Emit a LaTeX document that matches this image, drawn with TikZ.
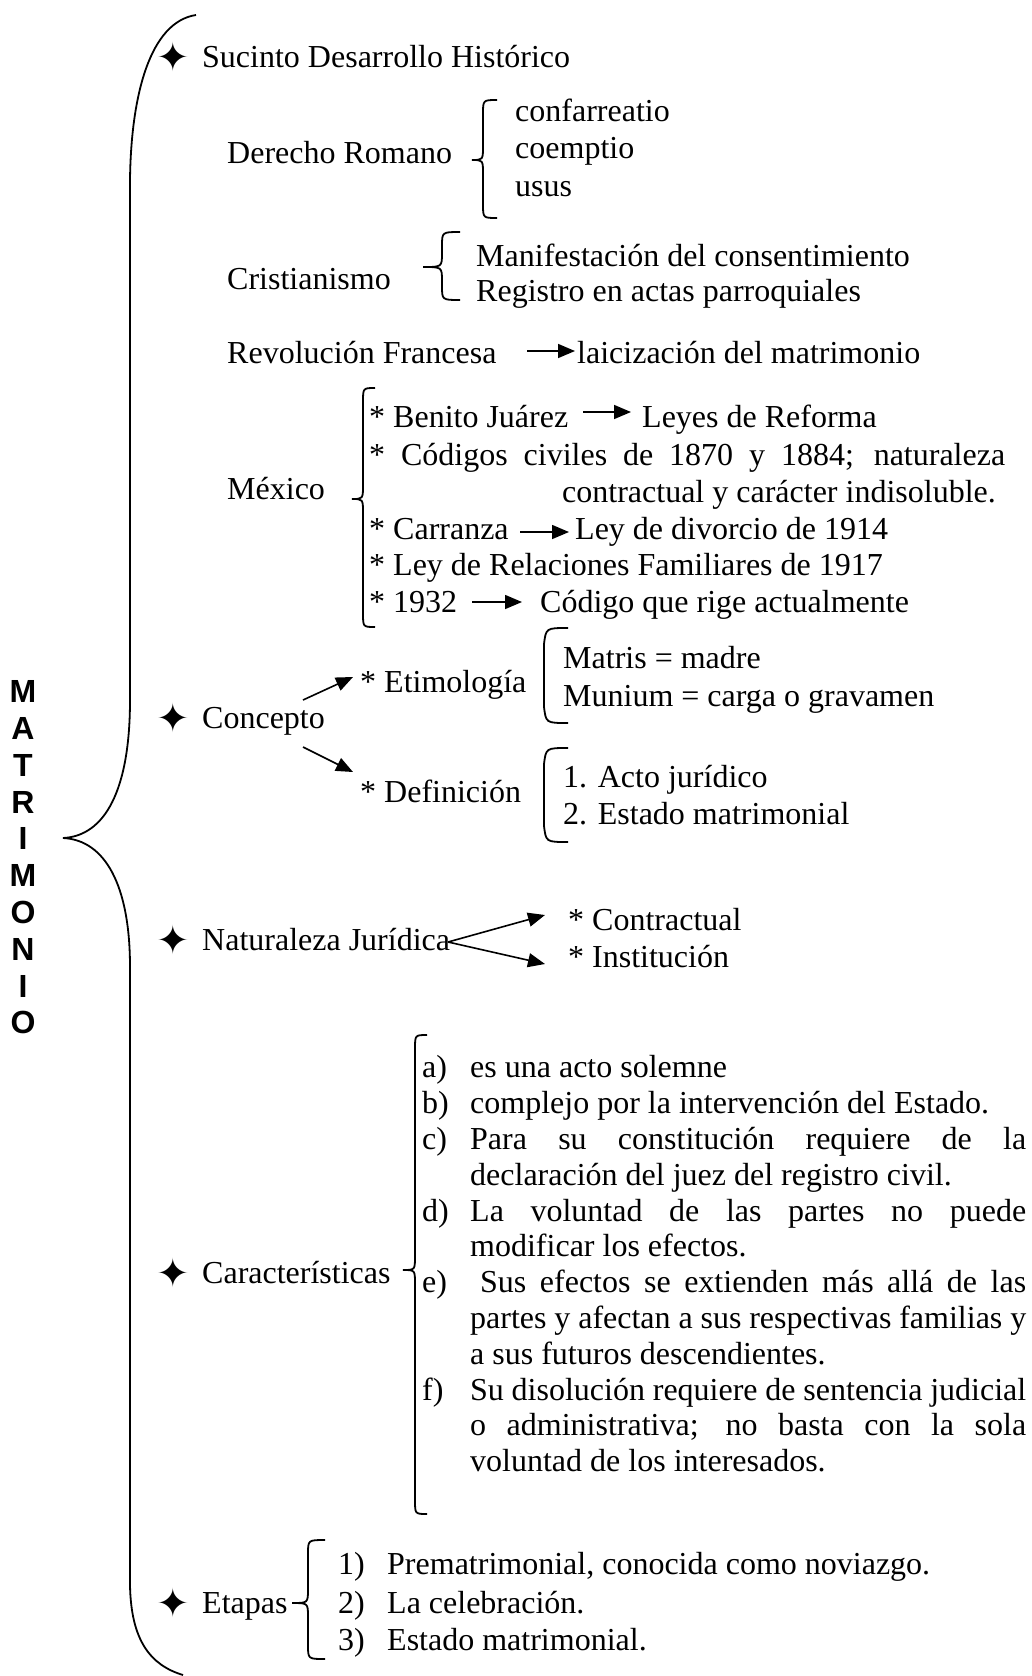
\documentclass[tikz,border=0pt]{standalone}
\usepackage{fontspec}
\setmainfont{Liberation Serif}
\newfontfamily\matfont{Liberation Sans}
\newfontfamily\starfont{DejaVu Sans}
\usetikzlibrary{arrows.meta}
\newcommand\fs{\fontsize{32}{38}\selectfont}
\newcommand\bracepath[6]{% #1 xr, #2 xv, #3 xt, #4 ytop, #5 ytip, #6 ybot
  \draw[brc] (#1,#4) .. controls (#2,#4) .. (#2,{#4+14}) -- (#2,{#5-14}) .. controls (#2,#5) .. (#3,#5) .. controls (#2,#5) .. (#2,{#5+14}) -- (#2,{#6-14}) .. controls (#2,#6) .. (#1,#6);}
\newcommand\sqpath[4]{% #1 xr, #2 xv, #3 ytop, #4 ybot
  \draw[brc] (#1,#3) .. controls ({#2+2},#3) .. (#2,{#3+16}) -- (#2,{#4-16}) .. controls ({#2+2},#4) .. (#1,#4);}
\tikzset{
  txt/.style={font=\fs, inner sep=0pt, anchor=mid west, yshift=-8.5pt},
  lbl/.style={font=\fs, inner sep=0pt, anchor=mid west, yshift=-8.5pt},
  starnode/.style={font=\starfont\fontsize{40}{40}\selectfont, inner sep=0pt, anchor=center},
  brc/.style={line width=1.8pt},
  arr/.style={line width=1.6pt, -{Triangle[length=17pt,width=14pt]}},
}
\begin{document}
\begin{tikzpicture}[x=1pt,y=-1pt]
\useasboundingbox (0,0) rectangle (1032,1676);
\fill[white] (0,0) rectangle (1032,1676);

% main brace
\draw[brc] (196,15) .. controls (150,22) and (131,95) .. (130,180) -- (130,700)
  .. controls (130,790) and (105,836) .. (63,838)
  .. controls (105,840) and (130,885) .. (130,967) -- (130,1585)
  .. controls (131,1640) and (150,1665) .. (183,1675);

\node[font=\matfont\bfseries\fontsize{32}{36.8}\selectfont, align=center, inner sep=0pt] (mat) at (23,857.5)
  {M\\A\\T\\R\\I\\M\\O\\N\\I\\O};

% Sucinto Desarrollo Historico
\node[starnode] (st1) at (173,57) {✦};
\node[txt] (s1) at (202,57) {Sucinto Desarrollo Histórico};

\node[txt] (dr) at (227,153) {Derecho Romano};
\bracepath{497}{483}{472}{100}{160}{218}
\node[txt] (dr1) at (515,111) {confarreatio};
\node[txt] (dr2) at (515,148) {coemptio};
\node[txt] (dr3) at (515,186) {usus};

\node[txt] (cr) at (227,279) {Cristianismo};
\bracepath{460}{442}{423}{232}{267}{300}
\node[txt] (cr1) at (476,256) {Manifestación del consentimiento};
\node[txt] (cr2) at (476,291) {Registro en actas parroquiales};

\node[txt] (rf) at (227,353) {Revolución Francesa};
\node[txt] (rf1) at (577,353) {laicización del matrimonio};
\coordinate (rfa) at (527,351);
\coordinate (rfb) at (575,351);
\draw[arr] (rfa) -- (rfb);

% Mexico
\node[txt] (mx) at (227,489) {México};
\bracepath{375}{363}{352}{388}{499}{627}
\node[txt] (mx1) at (369,417) {* Benito Juárez};
\node[txt] (mx1b) at (642,417) {Leyes de Reforma};
\coordinate (mx1a) at (583,412);
\coordinate (mx1c) at (631,412);
\draw[arr] (mx1a) -- (mx1c);
\node[txt] (mx2) at (369,455) {\makebox[636pt][s]{* Códigos civiles de 1870 y 1884; naturaleza}};
\node[txt] (mx3) at (562,492) {contractual y carácter indisoluble.};
\node[txt] (mx4) at (369,529) {* Carranza};
\node[txt] (mx4b) at (575,529) {Ley de divorcio de 1914};
\coordinate (mx4a) at (520,532);
\coordinate (mx4c) at (569,532);
\draw[arr] (mx4a) -- (mx4c);
\node[txt] (mx5) at (369,565) {* Ley de Relaciones Familiares de 1917};
\node[txt] (mx6) at (369,602) {* 1932};
\node[txt] (mx6b) at (540,602) {Código que rige actualmente};
\coordinate (mx6a) at (472,602);
\coordinate (mx6c) at (522,602);
\draw[arr] (mx6a) -- (mx6c);

% Concepto
\node[starnode] (st2) at (173,718) {✦};
\node[txt] (cp) at (202,718) {Concepto};
\node[txt] (et) at (360,682) {* Etimología};
\node[txt] (df) at (360,792) {* Definición};
\coordinate (cpa) at (303,700);
\coordinate (cpb) at (353,677);
\coordinate (cpc) at (303,747);
\coordinate (cpd) at (353,772);
\draw[arr] (cpa) -- (cpb);
\draw[arr] (cpc) -- (cpd);
\sqpath{568}{544}{628}{723}
\sqpath{568}{544}{748}{842}
\node[txt] (et1) at (563,658) {Matris = madre};
\node[txt] (et2) at (563,696) {Munium = carga o gravamen};
\node[txt] (df1) at (563,777) {1. Acto jurídico};
\node[txt] (df2) at (563,814) {2. Estado matrimonial};

% Naturaleza juridica
\node[starnode] (st3) at (173,940) {✦};
\node[txt] (nj) at (202,940) {Naturaleza Jurídica};
\coordinate (nja) at (448,942);
\coordinate (njb) at (545,915);
\coordinate (njc) at (545,964);
\draw[arr] (nja) -- (njb);
\draw[arr] (nja) -- (njc);
\node[txt] (nj1) at (568,920) {* Contractual};
\node[txt] (nj2) at (568,957) {* Institución};

% Caracteristicas
\node[starnode] (st4) at (173,1273) {✦};
\node[txt] (ca) at (202,1273) {Características};
\bracepath{427}{415}{403}{1035}{1270}{1514}
\node[lbl] (la) at (422,1067) {a)};
\node[txt] (ca1) at (470,1067) {es una acto solemne};
\node[lbl] (lb) at (422,1102.8) {b)};
\node[txt] (cb1) at (470,1102.8) {complejo por la intervención del Estado.};
\node[lbl] (lc) at (422,1138.6) {c)};
\node[txt] (cc1) at (470,1138.6) {\makebox[556pt][s]{Para su constitución requiere de la}};
\node[txt] (cc2) at (470,1174.4) {declaración del juez del registro civil.};
\node[lbl] (ld) at (422,1210.2) {d)};
\node[txt] (cd1) at (470,1210.2) {\makebox[556pt][s]{La voluntad de las partes no puede}};
\node[txt] (cd2) at (470,1246) {modificar los efectos.};
\node[lbl] (le) at (422,1281.8) {e)};
\node[txt] (ce1) at (480,1281.8) {\makebox[546pt][s]{Sus efectos se extienden más allá de las}};
\node[txt] (ce2) at (470,1317.6) {\makebox[556pt][s]{partes y afectan a sus respectivas familias y}};
\node[txt] (ce3) at (470,1353.4) {a sus futuros descendientes.};
\node[lbl] (lf) at (422,1389.2) {f)};
\node[txt] (cf1) at (470,1389.2) {\makebox[556pt][s]{Su disolución requiere de sentencia judicial}};
\node[txt] (cf2) at (470,1425) {\makebox[556pt][s]{o administrativa; no basta con la sola}};
\node[txt] (cf3) at (470,1460.8) {voluntad de los interesados.};

% Etapas
\node[starnode] (st5) at (173,1603) {✦};
\node[txt] (ep) at (202,1603) {Etapas};
\bracepath{325}{308}{292}{1540}{1603}{1659}
\node[lbl] (e1) at (338,1564) {1)};
\node[txt] (e1t) at (387,1564) {Prematrimonial, conocida como noviazgo.};
\node[lbl] (e2) at (338,1603) {2)};
\node[txt] (e2t) at (387,1603) {La celebración.};
\node[lbl] (e3) at (338,1640) {3)};
\node[txt] (e3t) at (387,1640) {Estado matrimonial.};
\end{tikzpicture}
\end{document}
